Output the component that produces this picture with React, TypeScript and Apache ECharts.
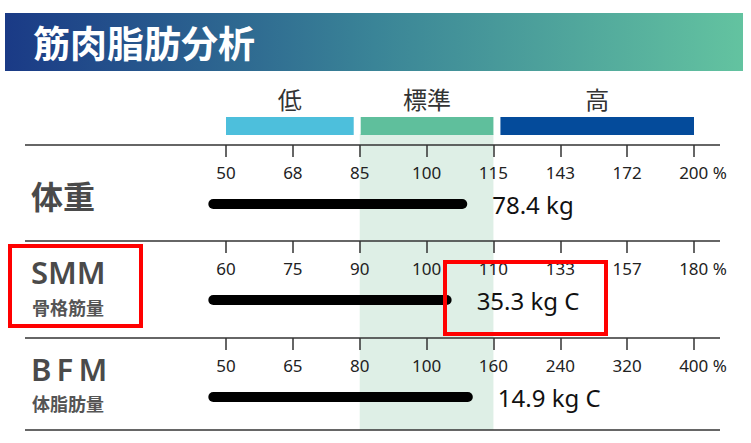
import React, { useEffect, useRef } from "react";
import * as echarts from "echarts";

// 行の名前とサブタイトル
const rowNames = ["体重", "SMM", "BFM"];
const rowSubNames = ["", "骨格筋量", "体脂肪量"];

// 各行の目盛り (%)
const weightTicks = [50, 68, 85, 100, 115, 143, 172, 200];
const smmTicks = [60, 75, 90, 100, 110, 133, 157, 180];
const bfmTicks = [50, 65, 80, 100, 160, 240, 320, 400];

// バーの終点 (%) と値ラベル
const barPercent = [108, 103, 137];
const valueLabels = ["78.4 kg", "35.3 kg C", "14.9 kg C"];

// 低 / 標準 / 高 の範囲 (目盛りの番号)
const bandNames = ["低", "標準", "高"];
const bandRanges = [
  [0, 2],
  [2, 4],
  [4, 7],
];
const bandColors = ["#4dbfdc", "#5fbf9c", "#044b9b"];

const allTicks = [weightTicks, smmTicks, bfmTicks];

const CJK = '"Noto Sans CJK JP", "Noto Sans", sans-serif';
const LATIN = '"Noto Sans", sans-serif';

const GRID_LEFT = 226;
const GRID_RIGHT = 751 - 694;
const ROW_LINES = [145, 241, 338];
const BAR_OFFSET = 59;
const BAR_START = -0.19;

// % を目盛り番号に変換 (区間ごとに線形)
const toIndex = (p: number, ticks: number[]) => {
  for (let i = 0; i < ticks.length - 1; i++) {
    if (p <= ticks[i + 1]) return i + (p - ticks[i]) / (ticks[i + 1] - ticks[i]);
  }
  return ticks.length - 1;
};

const App = () => {
  const chartRef = useRef<HTMLDivElement>(null);

  useEffect(() => {
    const chart = echarts.init(chartRef.current, null, { renderer: "svg" });

    const hiddenX = (gridIndex: number) => ({
      type: "value",
      gridIndex,
      min: 0,
      max: 7,
      show: false,
    });
    const hiddenY = (gridIndex: number) => ({
      type: "value",
      gridIndex,
      min: 0,
      max: 1,
      show: false,
    });

    const rowX = allTicks.map((ticks, i) => ({
      type: "value",
      gridIndex: i + 2,
      position: "top",
      min: 0,
      max: 7,
      interval: 1,
      z: 10,
      axisLine: { show: false, onZero: false },
      splitLine: { show: false },
      axisTick: {
        show: true,
        inside: true,
        length: 12,
        lineStyle: { color: "#333", width: 1.5 },
      },
      axisLabel: {
        inside: true,
        margin: 19,
        fontSize: 17,
        color: "#222",
        fontFamily: LATIN,
        formatter: (v: number) => {
          const k = Math.round(v);
          if (k === ticks.length - 1) return `{s| }{n|${ticks[k]}}{p| %}`;
          return `{n|${ticks[k]}}`;
        },
        rich: {
          s: { width: 18, fontSize: 17 },
          n: { fontSize: 17, color: "#222", fontFamily: LATIN },
          p: { fontSize: 17, color: "#222", fontFamily: LATIN },
        },
      },
    }));

    // 各行の黒いバーと値ラベル
    const rowSeries = allTicks.map((ticks, i) => ({
      type: "custom",
      xAxisIndex: i + 2,
      yAxisIndex: i + 2,
      z: 5,
      data: [[BAR_START, toIndex(barPercent[i], ticks)]],
      renderItem: (params: any, api: any) => {
        const s = api.coord([api.value(0), 0]);
        const e = api.coord([api.value(1), 0]);
        return {
          type: "group",
          children: [
            {
              type: "line",
              shape: { x1: s[0], y1: s[1], x2: e[0], y2: e[1] },
              style: { stroke: "#000", lineWidth: 10, lineCap: "round" },
            },
            {
              type: "text",
              x: e[0] + 30,
              y: e[1],
              style: {
                text: valueLabels[i],
                fill: "#111",
                fontSize: 24,
                fontFamily: LATIN,
                align: "left",
                verticalAlign: "middle",
              },
            },
          ],
        };
      },
    }));

    const labelText = (
      text: string,
      x: number,
      y: number,
      size: number,
      fill: string,
      family: string
    ) => ({
      type: "text",
      x,
      y,
      style: {
        text,
        fill,
        fontSize: size,
        lineHeight: size,
        fontWeight: 600,
        fontFamily: family,
        verticalAlign: "middle",
      },
    });

    const graphics: any[] = [
      {
        type: "rect",
        shape: { x: 5, y: 13, width: 738, height: 58 },
        style: {
          fill: new echarts.graphic.LinearGradient(0, 0, 1, 0, [
            { offset: 0, color: "#1a3a86" },
            { offset: 0.5, color: "#3a8497" },
            { offset: 1, color: "#63c3a0" },
          ]),
        },
      },
      {
        type: "text",
        x: 33,
        y: 42,
        style: {
          text: "筋肉脂肪分析",
          fill: "#fff",
          fontSize: 37,
          fontWeight: "bold",
          fontFamily: CJK,
          verticalAlign: "middle",
        },
      },
      ...[145, 241, 338, 430].map((y) => ({
        type: "line",
        z: 100,
        shape: { x1: 25, y1: y, x2: 720, y2: y },
        style: { stroke: "#333", lineWidth: 1.5 },
      })),
      labelText(rowNames[0], 31, 195, 32, "#4a4a4a", CJK),
      labelText(rowNames[1], 31, 272, 31, "#4a4a4a", LATIN),
      labelText(rowSubNames[1], 32, 307, 18, "#555", CJK),
      labelText(rowNames[2].split("").join("\u2009"), 31, 369, 31, "#4a4a4a", LATIN),
      labelText(rowSubNames[2], 32, 403, 18, "#555", CJK),
      {
        type: "rect",
        z: 200,
        shape: { x: 10, y: 246, width: 131, height: 80 },
        style: { fill: "none", stroke: "#ff0000", lineWidth: 4 },
      },
      {
        type: "rect",
        z: 200,
        shape: { x: 445, y: 262, width: 161, height: 72 },
        style: { fill: "none", stroke: "#ff0000", lineWidth: 4 },
      },
    ];

    chart.setOption({
      animation: false,
      backgroundColor: "#fff",
      grid: [
        { left: GRID_LEFT, right: GRID_RIGHT, top: 117, height: 18 },
        { left: GRID_LEFT, right: GRID_RIGHT, top: 134, height: 296 },
        ...ROW_LINES.map((top) => ({
          left: GRID_LEFT,
          right: GRID_RIGHT,
          top,
          height: BAR_OFFSET,
        })),
      ],
      xAxis: [hiddenX(0), hiddenX(1), ...rowX],
      yAxis: [0, 1, 2, 3, 4].map((g) => hiddenY(g)),
      series: [
        {
          type: "custom",
          xAxisIndex: 0,
          yAxisIndex: 0,
          data: bandRanges,
          renderItem: (params: any, api: any) => {
            const idx = params.dataIndex;
            let x0 = api.coord([api.value(0), 0])[0];
            let x1 = api.coord([api.value(1), 0])[0];
            if (idx === 0) x1 -= 6;
            if (idx === 1) x0 += 1;
            if (idx === 2) x0 += 7;
            const cs = params.coordSys;
            return {
              type: "group",
              children: [
                {
                  type: "rect",
                  shape: { x: x0, y: cs.y, width: x1 - x0, height: cs.height },
                  style: { fill: bandColors[idx] },
                },
                {
                  type: "text",
                  x: (x0 + x1) / 2,
                  y: cs.y - 19,
                  style: {
                    text: bandNames[idx],
                    fill: "#333",
                    fontSize: 24,
                    fontFamily: CJK,
                    align: "center",
                    verticalAlign: "middle",
                  },
                },
              ],
            };
          },
        },
        {
          type: "custom",
          xAxisIndex: 1,
          yAxisIndex: 1,
          z: -1,
          data: [bandRanges[1]],
          renderItem: (params: any, api: any) => {
            const x0 = api.coord([api.value(0), 0])[0];
            const x1 = api.coord([api.value(1), 0])[0];
            const cs = params.coordSys;
            return {
              type: "rect",
              shape: { x: x0, y: cs.y, width: x1 - x0, height: cs.height },
              style: { fill: "#deefe6" },
            };
          },
        },
        ...rowSeries,
      ],
      graphic: graphics,
    });

    return () => chart.dispose();
  }, []);

  return (
    <div
      ref={chartRef}
      style={{
        position: "fixed",
        left: 0,
        top: 0,
        width: "751px",
        height: "443px",
        background: "#fff",
      }}
    />
  );
};

export default App;
